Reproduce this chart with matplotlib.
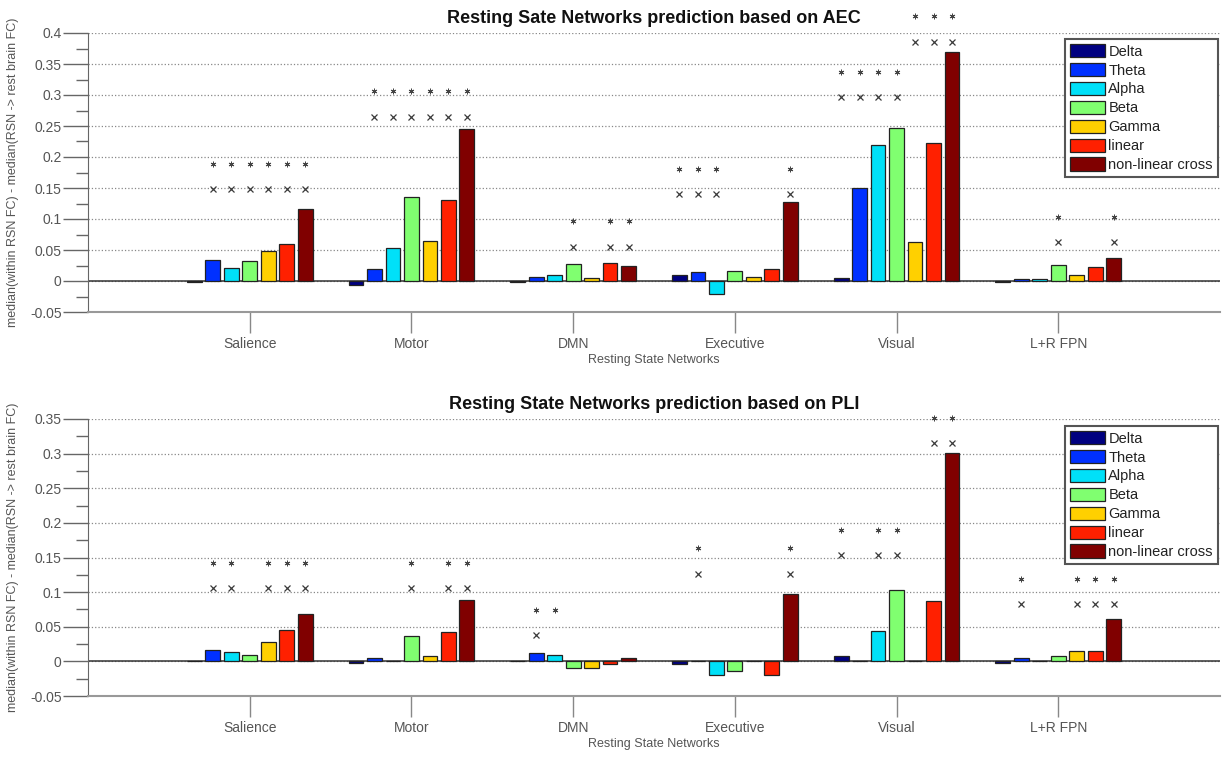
import numpy as np
import matplotlib.pyplot as plt
from matplotlib.ticker import MultipleLocator, FuncFormatter

plt.rcParams['font.family'] = ['Liberation Sans', 'DejaVu Sans']

# Categories
networks = ['Salience', 'Motor', 'DMN', 'Executive', 'Visual', 'L+R FPN']
bands = ['Delta', 'Theta', 'Alpha', 'Beta', 'Gamma', 'linear', 'non-linear cross']
band_colors = ['#000080', '#0030FF', '#00E0F8', '#80FF70', '#FFD000', '#FF2000', '#800000']

# AEC values: one row per band, one column per network
aec_values = [
    [-0.001, -0.006, -0.001, 0.0097, 0.0049, -0.001],   # Delta
    [0.034, 0.020, 0.007, 0.0146, 0.1495, 0.003],       # Theta
    [0.0216, 0.0534, 0.0097, -0.0216, 0.2186, 0.003],   # Alpha
    [0.0324, 0.135, 0.027, 0.0162, 0.2467, 0.026],      # Beta
    [0.0486, 0.0648, 0.0043, 0.007, 0.0626, 0.0097],    # Gamma
    [0.0594, 0.1307, 0.029, 0.019, 0.2224, 0.023],      # linear
    [0.1155, 0.2456, 0.0237, 0.1274, 0.3698, 0.037],    # non-linear cross
]

# PLI values
pli_values = [
    [0.001, -0.002, 0.0, -0.0034, 0.0072, -0.002],
    [0.0164, 0.0048, 0.0125, 0.001, 0.0, 0.0048],
    [0.0135, 0.0, 0.0087, -0.0203, 0.0439, 0.0],
    [0.0087, 0.0366, -0.0101, -0.014, 0.103, 0.0082],
    [0.0275, 0.0072, -0.0092, 0.0, 0.0, 0.0149],
    [0.0453, 0.0424, -0.0043, -0.0203, 0.0868, 0.0149],
    [0.069, 0.0882, 0.0048, 0.0979, 0.3008, 0.0617],
]

# significance marks: (network index, band indices, height)
aec_x_marks = [
    (0, [1, 2, 3, 4, 5, 6], 0.1485),
    (1, [1, 2, 3, 4, 5, 6], 0.265),
    (2, [3, 5, 6], 0.055),
    (3, [0, 1, 2, 6], 0.141),
    (4, [0, 1, 2, 3], 0.297),
    (4, [4, 5, 6], 0.386),
    (5, [3, 6], 0.0637),
]
aec_star_marks = [
    (0, [1, 2, 3, 4, 5, 6], 0.189),
    (1, [1, 2, 3, 4, 5, 6], 0.306),
    (2, [3, 5, 6], 0.096),
    (3, [0, 1, 2, 6], 0.181),
    (4, [0, 1, 2, 3], 0.337),
    (4, [4, 5, 6], 0.4275),
    (5, [3, 6], 0.1036),
]
pli_x_marks = [
    (0, [1, 2, 4, 5, 6], 0.1066),
    (1, [3, 5, 6], 0.1066),
    (2, [1], 0.0386),
    (3, [1, 6], 0.1268),
    (4, [0, 2, 3], 0.1533),
    (4, [5, 6], 0.3158),
    (5, [1, 4, 5, 6], 0.0829),
]
pli_star_marks = [
    (0, [1, 2, 4, 5, 6], 0.142),
    (1, [3, 5, 6], 0.142),
    (2, [1, 2], 0.0747),
    (3, [1, 6], 0.163),
    (4, [0, 2, 3], 0.189),
    (4, [5, 6], 0.352),
    (5, [1, 4, 5, 6], 0.1186),
]

fig = plt.figure(figsize=(12.24, 7.57), dpi=100)
W, H = 1224.0, 757.0

step = 0.8 / len(bands)
bar_w = 0.8 * step
xpos = np.arange(1, len(networks) + 1)


def bar_x(net, band):
    return xpos[net] + (band - 3) * step


def draw_panel(rect, values, x_marks, star_marks, title, ymax, legend_top):
    ax = fig.add_axes(rect)
    handles = []
    for i, band in enumerate(bands):
        b = ax.bar(xpos + (i - 3) * step, values[i], width=bar_w, color=band_colors[i],
                   edgecolor='#222222', linewidth=0.9, zorder=3, label=band)
        handles.append(b)

    for net, idx, y in x_marks:
        ax.plot([bar_x(net, k) for k in idx], [y] * len(idx), linestyle='none', marker='x',
                markersize=4.5, markeredgewidth=0.9, color='#3a3a3a', clip_on=False, zorder=4)
    for net, idx, y in star_marks:
        ax.plot([bar_x(net, k) for k in idx], [y] * len(idx), linestyle='none', marker=(6, 2, 0),
                markersize=4, markeredgewidth=0.7, color='#444444', clip_on=False, zorder=4)

    ax.axhline(0, color='#333333', linewidth=1.1, zorder=2)
    ax.set_xlim(0, 7)
    ax.set_ylim(-0.05, ymax)
    ax.yaxis.set_major_locator(MultipleLocator(0.05))
    ax.yaxis.set_minor_locator(MultipleLocator(0.025))
    ax.yaxis.set_major_formatter(FuncFormatter(lambda v, p: '%g' % round(v, 3)))
    ax.yaxis.grid(True, which='major', linestyle=':', color='#888888', linewidth=0.9, zorder=0)

    ax.set_xticks(xpos)
    ax.set_xticklabels(networks)
    ax.tick_params(axis='y', which='major', direction='out', length=18, width=1,
                   color='#666666', labelsize=10, labelcolor='#555555', pad=1)
    ax.tick_params(axis='y', which='minor', direction='out', length=9, width=1, color='#666666')
    ax.tick_params(axis='x', direction='out', length=15, width=1, color='#888888',
                   labelsize=10, labelcolor='#555555', pad=3)

    for s in ['top', 'right']:
        ax.spines[s].set_visible(False)
    ax.spines['left'].set_color('#666666')
    ax.spines['bottom'].set_color('#999999')
    ax.spines['bottom'].set_linewidth(1.5)

    ax.set_title(title, fontsize=13, fontweight='bold', color='#111111', pad=7)
    ax.set_xlabel('Resting State Networks', fontsize=9, color='#555555')
    ax.xaxis.set_label_coords(0.5, -0.15)
    ax.set_ylabel('median(within RSN FC) - median(RSN -> rest brain FC)', fontsize=9,
                  color='#555555')
    ax.yaxis.set_label_coords(-0.061, 0.5)

    leg = ax.legend(handles, bands, loc='upper right',
                    bbox_to_anchor=(1218 / W, 1 - legend_top / H), bbox_transform=fig.transFigure,
                    fontsize=10.5, fancybox=False, framealpha=1, edgecolor='#555555',
                    handlelength=2.4, handleheight=1.0, labelspacing=0.3, handletextpad=0.2,
                    borderpad=0.35, borderaxespad=0)
    leg.get_frame().set_linewidth(1.5)
    for t in leg.get_texts():
        t.set_color('#222222')
    return ax


left = 88 / W
width = (1220 - 88) / W
draw_panel([left, 1 - 312 / H, width, 279 / H], aec_values, aec_x_marks, aec_star_marks,
           'Resting Sate Networks prediction based on AEC', 0.4, 39)
draw_panel([left, 1 - 696 / H, width, 277 / H], pli_values, pli_x_marks, pli_star_marks,
           'Resting State Networks prediction based on PLI', 0.35, 426)

fig.savefig('out.png', dpi=100)
